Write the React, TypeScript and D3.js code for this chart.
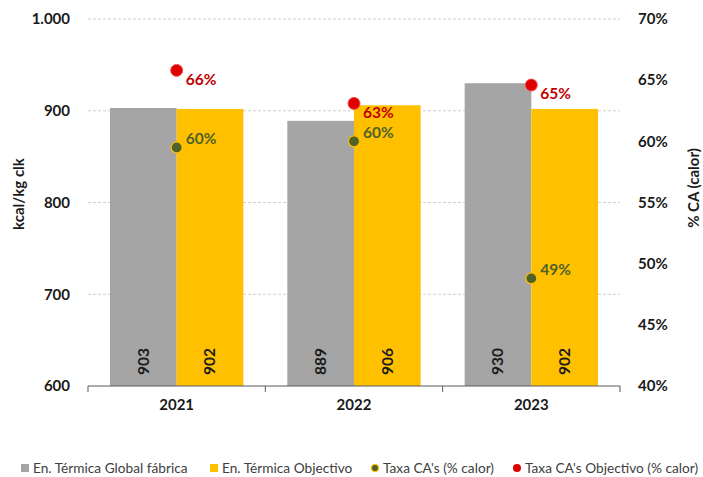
import React from "react";
import * as d3 from "d3";

const years = ["2021", "2022", "2023"];
const globalFabrica = [903, 889, 930];
const objectivo = [902, 906, 902];
const taxaCA = [0.595, 0.6, 0.488];
const taxaCAObjectivo = [0.658, 0.631, 0.646];
const leftTicks = [600, 700, 800, 900, 1000];
const rightTicks = [0.4, 0.45, 0.5, 0.55, 0.6, 0.65, 0.7];
const seriesNames = [
  "En. Térmica Global fábrica",
  "En. Térmica Objectivo",
  "Taxa CA's (% calor)",
  "Taxa CA's Objectivo (% calor)",
];

const W = 703;
const H = 477;
const m = { left: 88, right: 620, top: 19, bottom: 386 };
const FONT = "Lato, 'Open Sans', sans-serif";
const GRAY = "#A5A5A5";
const YELLOW = "#FFC000";
const GREEN = "#4F6228";
const RED = "#E00000";
const RED_TXT = "#C00000";

export default function App() {
  const x = d3.scaleBand<string>().domain(years).range([m.left, m.right]).padding(0);
  const sub = d3
    .scaleBand<string>()
    .domain(["g", "o"])
    .range([0, x.bandwidth()])
    .paddingInner(0)
    .paddingOuter(0.33);
  const yL = d3.scaleLinear().domain([600, 1000]).range([m.bottom, m.top]);
  const yR = d3.scaleLinear().domain([0.4, 0.7]).range([m.bottom, m.top]);
  const fmtL = (v: number) => (v >= 1000 ? d3.format(",")(v).replace(",", ".") : String(v));
  const fmtP = d3.format(".0%");

  const bars = years.flatMap((yr, i) => [
    { key: yr + "g", x: x(yr)! + sub("g")!, v: globalFabrica[i], c: GRAY },
    { key: yr + "o", x: x(yr)! + sub("o")!, v: objectivo[i], c: YELLOW },
  ]);

  return (
    <svg width={W} height={H} style={{ display: "block", position: "absolute", left: 0, top: 0 }} fontFamily={FONT}>
      <rect width={W} height={H} fill="#fff" />
      {/* grid */}
      {leftTicks.slice(1).map((t) => (
        <line key={t} x1={m.left} x2={m.right} y1={yL(t)} y2={yL(t)} stroke="#D0D0D0" strokeDasharray="3,2" strokeWidth={1} />
      ))}
      {/* bars */}
      {bars.map((b) => (
        <g key={b.key}>
          <rect x={b.x} y={yL(b.v)} width={sub.bandwidth()} height={m.bottom - yL(b.v)} fill={b.c} />
          <text
            transform={`translate(${b.x + sub.bandwidth() / 2},${m.bottom - 11}) rotate(-90)`}
            dy="0.35em"
            fontSize={15.5}
            fontWeight={700}
            fill="#1a1a1a"
          >
            {b.v}
          </text>
        </g>
      ))}
      {/* x axis */}
      <line x1={m.left} x2={m.right} y1={m.bottom} y2={m.bottom} stroke="#595959" strokeWidth={1} />
      {[...years.map((y) => x(y)!), m.right].map((px, i) => (
        <line key={i} x1={px} x2={px} y1={m.bottom} y2={m.bottom + 6} stroke="#595959" />
      ))}
      {years.map((yr) => (
        <text key={yr} x={x(yr)! + x.bandwidth() / 2} y={m.bottom + 24} textAnchor="middle" fontSize={15} fontWeight={700} fill="#1a1a1a">
          {yr}
        </text>
      ))}
      {/* left ticks */}
      {leftTicks.map((t) => (
        <text key={t} x={70} y={yL(t)} dy="0.35em" textAnchor="end" fontSize={15} fontWeight={700} fill="#1a1a1a">
          {fmtL(t)}
        </text>
      ))}
      {/* right ticks */}
      {rightTicks.map((t) => (
        <text key={t} x={638} y={yR(t)} dy="0.35em" textAnchor="start" fontSize={15} fontWeight={700} fill="#1a1a1a">
          {fmtP(t)}
        </text>
      ))}
      {/* axis titles */}
      <text transform={`translate(19,194) rotate(-90)`} textAnchor="middle" dy="0.35em" fontSize={15} fontWeight={700} fill="#1a1a1a">
        kcal/kg clk
      </text>
      <text transform={`translate(694,188) rotate(-90)`} textAnchor="middle" dy="0.35em" fontSize={15} fontWeight={700} fill="#1a1a1a">
        % CA (calor)
      </text>
      {/* points */}
      {years.map((yr, i) => {
        const cx = x(yr)! + x.bandwidth() / 2;
        return (
          <g key={yr}>
            <circle cx={cx} cy={yR(taxaCAObjectivo[i])} r={6} fill={RED} stroke="#F05050" strokeWidth={1} />
            <text x={cx + 9} y={yR(taxaCAObjectivo[i]) + 9} dy="0.35em" fontSize={15.5} fontWeight={700} fill={RED_TXT}>
              {fmtP(Math.round(taxaCAObjectivo[i] * 100) / 100)}
            </text>
            <circle cx={cx} cy={yR(taxaCA[i])} r={5.5} fill={GREEN} stroke={YELLOW} strokeWidth={1.2} />
            <text x={cx + 9} y={yR(taxaCA[i]) - 9} dy="0.35em" fontSize={15.5} fontWeight={700} fill={GREEN}>
              {fmtP(Math.round(taxaCA[i] * 100) / 100)}
            </text>
          </g>
        );
      })}
      {/* legend */}
      <g fontSize={13.7} fill="#404040">
        <rect x={21} y={464} width={8} height={8} fill={GRAY} />
        <text x={33} y={468} dy="0.35em">{seriesNames[0]}</text>
        <rect x={210} y={464} width={8} height={8} fill={YELLOW} />
        <text x={222} y={468} dy="0.35em">{seriesNames[1]}</text>
        <circle cx={375} cy={468} r={3.5} fill={GREEN} stroke={YELLOW} strokeWidth={1.2} />
        <text x={383} y={468} dy="0.35em">{seriesNames[2]}</text>
        <circle cx={517} cy={468} r={4} fill={RED} />
        <text x={525} y={468} dy="0.35em">{seriesNames[3]}</text>
      </g>
    </svg>
  );
}
